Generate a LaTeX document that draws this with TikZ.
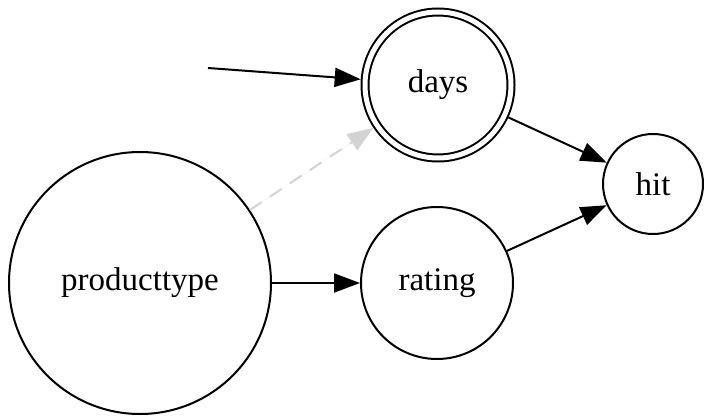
\documentclass[tikz,border=0pt]{standalone}
\usepackage{fontspec}
\setmainfont{Liberation Serif}
\usetikzlibrary{arrows.meta}
\definecolor{dimgray}{HTML}{D3D3D3}

\begin{document}
\begin{tikzpicture}[x=1pt,y=-1pt]
  \tikzset{state circle/.style={draw,circle,line width=2pt,minimum size=#1,inner sep=0pt,font=\fontsize{33}{40}\selectfont},
           edge/.style={line width=2pt,-{Triangle[length=26pt,width=19pt]}}}
  \useasboundingbox (0,0) rectangle (704,417);

  \node [state circle=262] (producttype) at (140,283) {producttype};
  \node [state circle=152] (rating) at (437,283) {rating};
  \node [state circle=146,double,double distance=5pt,outer sep=4.5pt] (days) at (438,85) {days};
  \node [state circle=100] (hit) at (653,184) {hit};
  \coordinate (start) at (208,68);

  \draw[edge] (start) -- (days);
  \draw[edge,draw=dimgray,fill=dimgray,dash pattern=on 14pt off 10pt] (producttype) -- (days);
  \draw[edge] (producttype) -- (rating);
  \draw[edge] (days) -- (hit);
  \draw[edge] (rating) -- (hit);
\end{tikzpicture}
\end{document}
